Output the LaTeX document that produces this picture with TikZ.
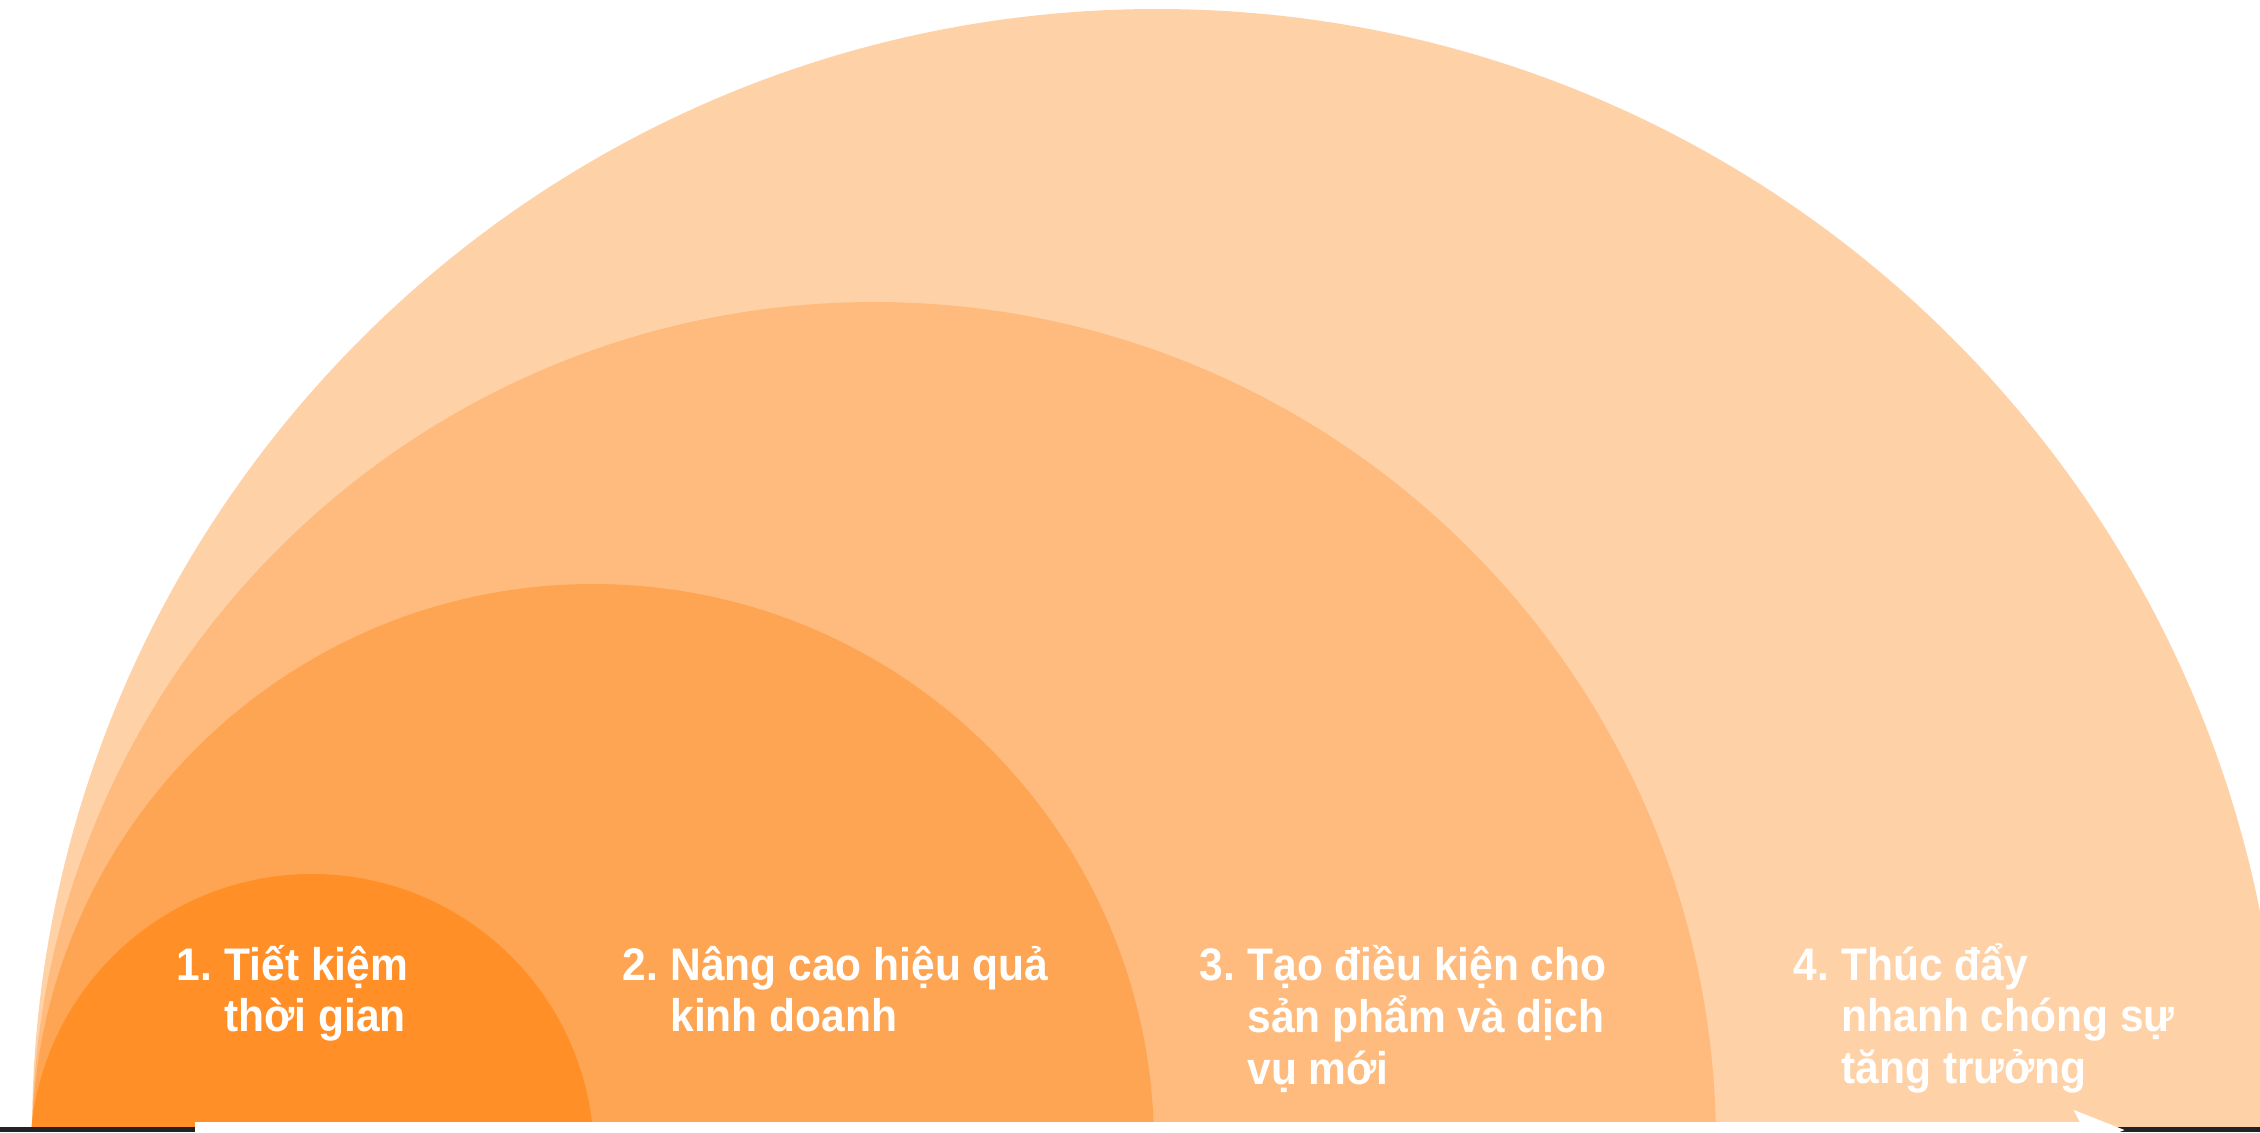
\documentclass[tikz,border=0pt]{standalone}
\usepackage{fontspec}
\setmainfont[FakeStretch=0.93]{Liberation Sans}
\usetikzlibrary{arrows.meta}
\definecolor{ring1}{HTML}{FF8F26}
\definecolor{ring2}{HTML}{FEA554}
\definecolor{ring3}{HTML}{FEBB7D}
\definecolor{ring4}{HTML}{FED1A7}
\definecolor{rulecol}{HTML}{222226}
\tikzset{>=Stealth,every node/.style={font=\fontsize{13}{14.7}\selectfont\bfseries,text=white,inner sep=0pt,anchor=base west},
  timeline/.style={white,line width=1.6mm,-{Stealth[length=5mm,width=3.8mm,inset=.9mm]}}}

\begin{document}
\begin{tikzpicture}[x=.01cm,y=-.01cm]
\useasboundingbox (0,0) rectangle (2260,1132);\clip (0,0) rectangle (2260,1132);
\begin{scope}\clip (0,0) rectangle (2260,1127);
\foreach \c/\cx/\cy/\r in {ring4/1157/1134/1125,ring3/874/1144/842,ring2/593/1145/561,ring1/312/1156/282}
  \fill[\c] (\cx,\cy) circle[radius=\r];
\end{scope}
\fill[rulecol] (0,1127) rectangle (2260,1132);
\coordinate (tail) at (195,1130);\coordinate (head) at (2125,1130);
\draw[timeline] (tail)--(head);
\node (step1) at (176,980){\begin{tabular}[t]{@{}l@{\hspace{3.5pt}}l@{}}1.&Tiết kiệm\\&thời gian\end{tabular}};
\node (step2) at (622,980){\begin{tabular}[t]{@{}l@{\hspace{3.5pt}}l@{}}2.&Nâng cao hiệu quả\\&kinh doanh\end{tabular}};
\node (step3) at (1199,980){\begin{tabular}[t]{@{}l@{\hspace{3.5pt}}l@{}}3.&Tạo điều kiện cho\\&sản phẩm và dịch\\&vụ mới\end{tabular}};
\node (step4) at (1793,980){\begin{tabular}[t]{@{}l@{\hspace{3.5pt}}l@{}}4.&Thúc đẩy\\&nhanh chóng sự\\&tăng trưởng\end{tabular}};
\end{tikzpicture}
\end{document}
